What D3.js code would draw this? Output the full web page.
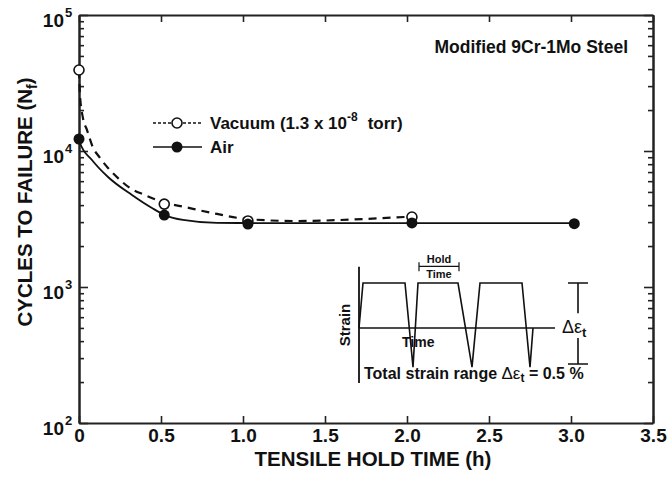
<!DOCTYPE html>
<html>
<head>
<meta charset="utf-8">
<script src="https://cdn.jsdelivr.net/npm/d3@7/dist/d3.min.js"></script>
<style>
  body { margin: 0; background: #fff; }
  svg { display: block; }
  text { font-family: "Liberation Sans", Arial, sans-serif; font-weight: bold; fill: #111; }
</style>
</head>
<body>
<svg id="chart" width="670" height="482"></svg>
<script>
// measured points
const vacHours = [0, 0.52, 1.03, 2.03];
const vacCycles = [39400, 4070, 3060, 3270];
const airHours = [0, 0.52, 1.03, 2.03, 3.02];
const airCycles = [12250, 3380, 2900, 2960, 2920];

// fitted curves
const vacFitHours = [0, 0.006, 0.024, 0.049, 0.079, 0.128, 0.177, 0.238, 0.311, 0.402, 0.506, 0.646, 0.841, 1.024, 1.33, 1.73, 2.02];
const vacFitCycles = [39400, 25800, 17500, 14250, 11070, 8890, 7500, 6320, 5340, 4745, 4220, 3870, 3445, 3160, 3055, 3160, 3290];
const airFitHours = [0, 0.006, 0.079, 0.177, 0.323, 0.445, 0.524, 0.634, 0.841, 1.2, 3.02];
const airFitCycles = [12250, 11450, 8590, 6440, 4750, 3810, 3380, 3110, 2960, 2950, 2950];

const xTicks = [0, 0.5, 1.0, 1.5, 2.0, 2.5, 3.0, 3.5];
const yDecades = [100, 1000, 10000, 100000];
const yExponents = ["2", "3", "4", "5"];

// inset schematic (time units, strain units)
const waveTime = [0, 0.4, 4.6, 5.4, 5.9, 9.9, 11.3, 12.1, 16.3, 17.1, 17.4];
const waveStrain = [0, 1, 1, -0.87, 1, 1, -0.87, 1, 1, -0.87, 0];

const svg = d3.select("#chart");
const margin = { top: 15, right: 653, bottom: 423, left: 79 };

const x = d3.scaleLinear().domain([0, 3.5]).range([margin.left, margin.right]);
const y = d3.scaleLog().domain([100, 100000]).range([margin.bottom, margin.top]);

const minorTicks = [];
yDecades.slice(0, 3).forEach((d) => {
  for (let k = 2; k <= 9; k++) minorTicks.push(d * k);
});

function styleAxis(g) {
  g.select(".domain").attr("stroke", "#222").attr("stroke-width", 2);
  g.selectAll(".tick line").attr("stroke", "#222").attr("stroke-width", 1.6);
}

// bottom axis
svg.append("g")
  .attr("transform", `translate(0,${margin.bottom})`)
  .call(d3.axisBottom(x).tickValues(xTicks).tickSizeInner(-7).tickSizeOuter(0).tickPadding(6)
    .tickFormat((d) => (d === 0 ? "0" : d3.format(".1f")(d))))
  .call(styleAxis)
  .selectAll("text")
  .style("font-size", "19px")
  .attr("fill", "#111");

// top axis
svg.append("g")
  .attr("transform", `translate(0,${margin.top})`)
  .call(d3.axisTop(x).tickValues(xTicks).tickSizeInner(-7).tickSizeOuter(0).tickFormat(""))
  .call(styleAxis);

// left axis: majors then minors
svg.append("g")
  .attr("transform", `translate(${margin.left},0)`)
  .call(d3.axisLeft(y).tickValues(yDecades).tickSizeInner(-9).tickSizeOuter(0).tickFormat(""))
  .call(styleAxis);
svg.append("g")
  .attr("transform", `translate(${margin.left},0)`)
  .call(d3.axisLeft(y).tickValues(minorTicks).tickSizeInner(-5).tickSizeOuter(0).tickFormat(""))
  .call(styleAxis);

// right axis
svg.append("g")
  .attr("transform", `translate(${margin.right},0)`)
  .call(d3.axisRight(y).tickValues(yDecades).tickSizeInner(-9).tickSizeOuter(0).tickFormat(""))
  .call(styleAxis);
svg.append("g")
  .attr("transform", `translate(${margin.right},0)`)
  .call(d3.axisRight(y).tickValues(minorTicks).tickSizeInner(-5).tickSizeOuter(0).tickFormat(""))
  .call(styleAxis);

// y tick labels 10^n
svg.append("g").selectAll("text")
  .data(yDecades)
  .join("text")
  .attr("x", 64)
  .attr("y", (d) => y(d) + 12)
  .attr("text-anchor", "end")
  .style("font-size", "19px")
  .text("10");
svg.append("g").selectAll("text")
  .data(yDecades)
  .join("text")
  .attr("x", 65)
  .attr("y", (d) => y(d) + 2)
  .style("font-size", "13px")
  .text((d, i) => yExponents[i]);

// axis titles
svg.append("text")
  .attr("x", (margin.left + margin.right) / 2 + 7)
  .attr("y", 466)
  .attr("text-anchor", "middle")
  .style("font-size", "20.5px")
  .text("TENSILE HOLD TIME (h)");

const yTitle = svg.append("text")
  .attr("transform", "translate(32,202) rotate(-90)")
  .attr("text-anchor", "middle")
  .style("font-size", "20.5px");
yTitle.append("tspan").text("CYCLES TO FAILURE (N");
yTitle.append("tspan").attr("dy", 5).style("font-size", "14px").text("f");
yTitle.append("tspan").attr("dy", -5).text(")");

// fitted curves
const line = d3.line()
  .x((d) => x(d[0]))
  .y((d) => y(d[1]))
  .curve(d3.curveMonotoneX);

svg.append("path")
  .datum(vacFitHours.map((h, i) => [h, vacFitCycles[i]]))
  .attr("d", line)
  .attr("fill", "none")
  .attr("stroke", "#111")
  .attr("stroke-width", 2.2)
  .attr("stroke-dasharray", "8,6");

svg.append("path")
  .datum(airFitHours.map((h, i) => [h, airFitCycles[i]]))
  .attr("d", line)
  .attr("fill", "none")
  .attr("stroke", "#111")
  .attr("stroke-width", 1.8);

// points
svg.append("g").selectAll("circle")
  .data(vacHours.map((h, i) => [h, vacCycles[i]]))
  .join("circle")
  .attr("cx", (d) => x(d[0]))
  .attr("cy", (d) => y(d[1]))
  .attr("r", 5)
  .attr("fill", "#fff")
  .attr("stroke", "#111")
  .attr("stroke-width", 1.6);

svg.append("g").selectAll("circle")
  .data(airHours.map((h, i) => [h, airCycles[i]]))
  .join("circle")
  .attr("cx", (d) => x(d[0]))
  .attr("cy", (d) => y(d[1]))
  .attr("r", 5.5)
  .attr("fill", "#111");

// legend
const legend = svg.append("g");
legend.append("line")
  .attr("x1", 153).attr("x2", 202).attr("y1", 123).attr("y2", 123)
  .attr("stroke", "#111").attr("stroke-width", 1.3).attr("stroke-dasharray", "3,2");
legend.append("circle")
  .attr("cx", 177).attr("cy", 123).attr("r", 5)
  .attr("fill", "#fff").attr("stroke", "#111").attr("stroke-width", 1.6);
legend.append("line")
  .attr("x1", 153).attr("x2", 202).attr("y1", 147).attr("y2", 147)
  .attr("stroke", "#111").attr("stroke-width", 1.6);
legend.append("circle")
  .attr("cx", 177).attr("cy", 147).attr("r", 5.5).attr("fill", "#111");

const vacText = legend.append("text")
  .attr("x", 210).attr("y", 129)
  .style("font-size", "17px");
vacText.append("tspan").text("Vacuum (1.3 x 10");
vacText.append("tspan").attr("dy", -8).style("font-size", "12px").text("-8");
vacText.append("tspan").attr("dy", 8).attr("dx", 10).text("torr)");
legend.append("text")
  .attr("x", 210).attr("y", 153)
  .style("font-size", "17px")
  .text("Air");

svg.append("text")
  .attr("x", 628).attr("y", 53)
  .attr("text-anchor", "end")
  .style("font-size", "17.5px")
  .text("Modified 9Cr-1Mo Steel");

// inset schematic
const xi = d3.scaleLinear().domain([0, 19.6]).range([359, 555]);
const yi = d3.scaleLinear().domain([0, 1]).range([328, 283]);
const inset = svg.append("g");

inset.append("line")
  .attr("x1", xi(0)).attr("x2", xi(0)).attr("y1", yi(1.36)).attr("y2", yi(-1.22))
  .attr("stroke", "#111").attr("stroke-width", 1.8);
inset.append("line")
  .attr("x1", xi(0)).attr("x2", xi(19.6)).attr("y1", yi(0)).attr("y2", yi(0))
  .attr("stroke", "#111").attr("stroke-width", 1.6);

inset.append("path")
  .datum(waveTime.map((t, i) => [t, waveStrain[i]]))
  .attr("d", d3.line().x((d) => xi(d[0])).y((d) => yi(d[1])))
  .attr("fill", "none")
  .attr("stroke", "#111")
  .attr("stroke-width", 1.6);

// hold time bracket
inset.append("path")
  .attr("d", `M${xi(6.0)},${yi(1.26)}V${yi(1.46)}M${xi(6.0)},${yi(1.37)}H${xi(10.0)}M${xi(10.0)},${yi(1.26)}V${yi(1.46)}`)
  .attr("fill", "none").attr("stroke", "#111").attr("stroke-width", 1.2);
inset.append("text")
  .attr("x", xi(8.0)).attr("y", 263)
  .attr("text-anchor", "middle").style("font-size", "11px").text("Hold");
inset.append("text")
  .attr("x", xi(8.0)).attr("y", 278)
  .attr("text-anchor", "middle").style("font-size", "11px").text("Time");

// delta epsilon bracket
const bx = 578;
inset.append("path")
  .attr("d", `M${bx - 10},${yi(1)}H${bx + 10}M${bx},${yi(1)}V${yi(0.33)}M${bx},${yi(-0.22)}V${yi(-0.8)}M${bx - 10},${yi(-0.8)}H${bx + 10}`)
  .attr("fill", "none").attr("stroke", "#111").attr("stroke-width", 1.6);
const de = inset.append("text")
  .attr("x", 562).attr("y", 333)
  .style("font-size", "18px").style("font-weight", "normal");
de.append("tspan").text("\u0394\u03b5");
de.append("tspan").attr("dy", 4).style("font-size", "13px").style("font-weight", "bold").text("t");

inset.append("text")
  .attr("x", 402).attr("y", 347)
  .style("font-size", "14px").text("Time");
inset.append("text")
  .attr("transform", "translate(350,325) rotate(-90)")
  .attr("text-anchor", "middle")
  .style("font-size", "15px").text("Strain");

const tot = inset.append("text")
  .attr("x", 364).attr("y", 379)
  .style("font-size", "16px");
tot.append("tspan").text("Total strain range ");
tot.append("tspan").style("font-weight", "normal").style("font-size", "17px").text("\u0394\u03b5");
tot.append("tspan").attr("dy", 3).style("font-size", "12px").text("t");
tot.append("tspan").attr("dy", -3).text(" = 0.5 %");
</script>
</body>
</html>
